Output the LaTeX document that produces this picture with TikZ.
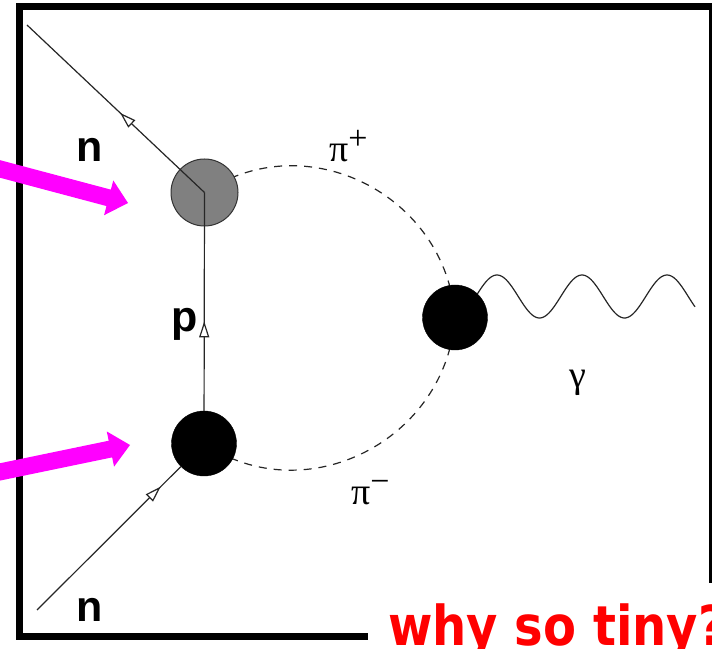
\documentclass[tikz,border=0pt]{standalone}
\usepackage{fontspec}
\setmainfont{Liberation Serif}
\newfontfamily\labsans{Liberation Sans}
\newfontfamily\redsans{DejaVu Sans}
\usetikzlibrary{arrows.meta,decorations.markings}
\pgfdeclarelayer{bg}
\pgfsetlayers{bg,main}
\definecolor{pink}{RGB}{255,0,255}
\definecolor{capred}{RGB}{255,0,0}
\begin{document}
\begin{tikzpicture}[x=1pt,y=1pt,
  frame/.style={line width=7pt},
  vertexg/.style={circle, draw=black!80, line width=1pt, fill=black!50, minimum size=67pt, inner sep=0pt},
  vertexb/.style={circle, draw=black, fill=black, minimum size=65pt, inner sep=0pt},
  fline/.style={line width=1.2pt, black!85},
  fmark/.style={postaction=decorate, decoration={markings, mark=at position #1 with {\arrow{Triangle[length=16pt,width=10pt,fill=white]}}}},
  scalar/.style={line width=1.2pt, black!85, dash pattern=on 8pt off 7pt},
  photon/.style={line width=1.2pt, black!85},
  lab/.style={font=\labsans\bfseries\fontsize{43}{45}\selectfont, inner sep=0pt},
  greek/.style={font=\fontsize{38}{40}\selectfont, inner sep=0pt},
  pointer/.style={fill=pink, draw=none},
]
\clip (0,0) rectangle (712,648);

% vertices
\node[vertexg] (g) at (204.5,455.5) {};
\node[vertexb] (v) at (204,204.5) {};
\node[vertexb] (w) at (455,330.5) {};
\coordinate (nt) at (27,623);
\coordinate (nb) at (37,38);

\begin{pgfonlayer}{bg}
\fill[white] (0,0) rectangle (712,648);
\draw[scalar] (g.center) to[out=34,in=94,looseness=1.12] (w.center);
\draw[scalar] (v.center) to[out=-34,in=-94,looseness=1.12] (w.center);
\draw[photon] plot[domain=455:695,samples=160] (\x,{351.5+21.5*sin(4.23529*(\x-475.75))});
\end{pgfonlayer}

% fermion lines
\draw[fline, fmark=0.475] (g.center) -- (nt);
\draw[fline, fmark=0.86] (nb) -- (v);
\draw[fline, fmark=0.41] (v) -- (g.center);

% labels
\node[lab] (n1) at (90,498) {n};
\node[lab] (n2) at (90,38) {n};
\node[lab] (pl) at (185,324) {p};
\node[greek, anchor=base west] (pp) at (329,486) {π\raisebox{12pt}{\fontsize{34}{36}\selectfont +}};
\node[greek, anchor=base west] (pm) at (351,143) {π\raisebox{12pt}{\fontsize{34}{36}\selectfont −}};
\node[greek] (ga) at (578,265) {γ};

% frame
\draw[frame] (19,641) rectangle (712.5,11.5);

% magenta pointers
\fill[pointer, shift={(128,445)}, rotate=-14.9] (0,0) -- (-20,18) -- (-20,8.5) -- (-160,8.5) -- (-160,-8.5) -- (-20,-8.5) -- (-20,-18) -- cycle;
\fill[pointer, shift={(130,203)}, rotate=11.7] (0,0) -- (-20,18) -- (-20,8.5) -- (-160,8.5) -- (-160,-8.5) -- (-20,-8.5) -- (-20,-18) -- cycle;

% caption
\fill[white] (368,-10) rectangle (720,65);
\node[anchor=base west, inner sep=0pt, text=capred, font=\redsans\bfseries\fontsize{55}{60}\selectfont] (q) at (388,3) {\scalebox{0.874}[1]{why so tiny?}};
\end{tikzpicture}
\end{document}
